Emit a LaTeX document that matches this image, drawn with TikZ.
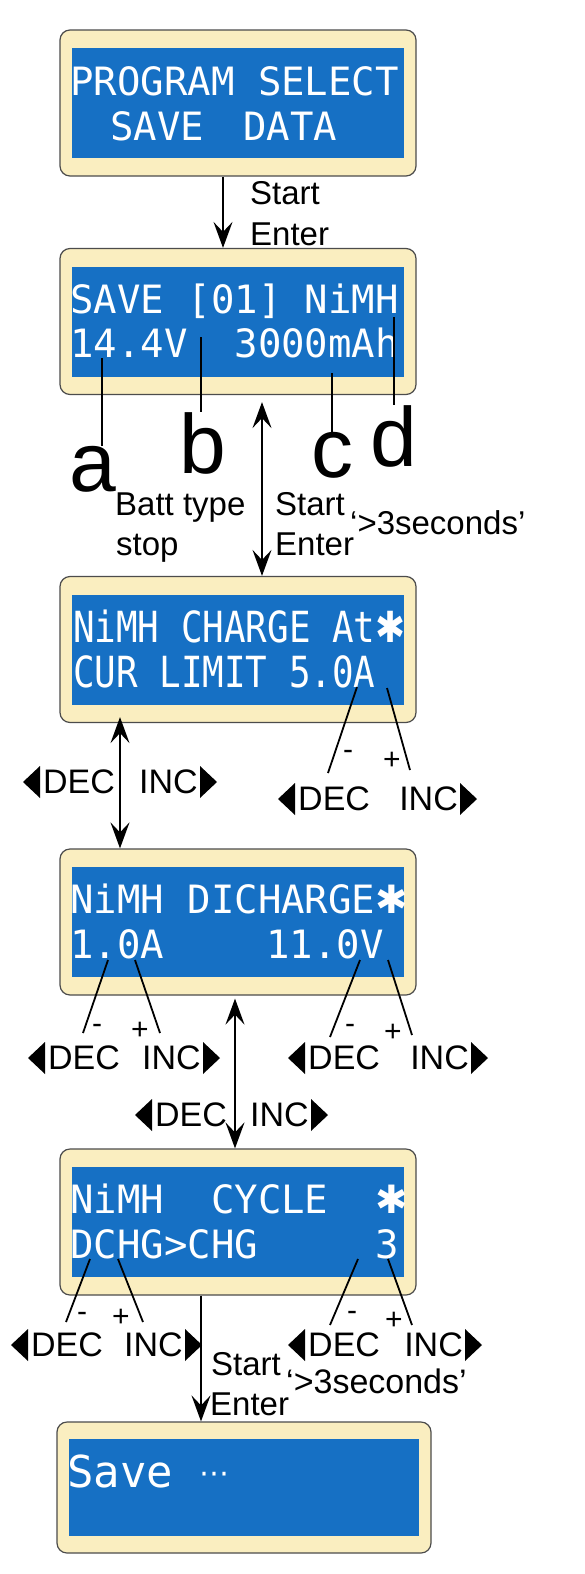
\documentclass[tikz,border=0pt]{standalone}
\usepackage{fontspec}
\setmainfont{Liberation Sans}
\newfontfamily\lcdfont{DejaVu Sans Mono}
\newfontfamily\symfont{DejaVu Sans}
\usepackage{tikz}
\usetikzlibrary{arrows.meta,positioning,calc}
\definecolor{lcdblue}{RGB}{22,112,196}
\definecolor{bezel}{RGB}{250,238,192}
\tikzset{bighead/.tip={Stealth[length=26pt,width=19pt,inset=10pt]}}
\tikzstyle{frame} = [draw=black!70, line width=1.2pt, fill=bezel, rounded corners=10pt, minimum width=356pt, minimum height=146pt, inner sep=0pt]
\tikzstyle{glass} = [fill=lcdblue, minimum width=332pt, minimum height=110pt, inner sep=0pt]
\tikzstyle{lcd} = [text=white, font=\lcdfont\fontsize{39}{39}\selectfont, inner sep=0pt, anchor=base west]
\tikzstyle{arrow} = [line width=1.5pt, -bighead]
\tikzstyle{darrow} = [line width=1.5pt, bighead-bighead]
\tikzstyle{lead} = [line width=1.8pt]
\tikzstyle{thinlead} = [line width=1.2pt]
\tikzstyle{lbl} = [font=\fontsize{33}{33}\selectfont, inner sep=0pt, anchor=base west]
\tikzstyle{key} = [font=\fontsize{34}{34}\selectfont, inner sep=0pt]
\tikzstyle{sign} = [font=\fontsize{30}{30}\selectfont, inner sep=0pt]
\tikzstyle{letter} = [font=\fontsize{84}{84}\selectfont, inner sep=0pt, anchor=base]
\tikzset{ltri/.pic={\fill (0,-16) -- (0,16) -- (-17,0) -- cycle;},
         rtri/.pic={\fill (0,-16) -- (0,16) -- (17,0) -- cycle;}}

\begin{document}
\begin{tikzpicture}[x=1pt, y=-1pt]
    \path[use as bounding box, fill=white] (0,0) rectangle (584,1574);

    % screens
    \foreach \i/\y in {1/103,2/321.5,3/649.5,4/922,5/1222}{
        \node[frame] (scr\i) at (238,\y) {};
        \node[glass] (lcd\i) at (238,\y) {};
    }
    \node[frame, minimum width=374pt, minimum height=131pt] (scr6) at (244,1487.5) {};
    \node[glass, minimum width=350pt, minimum height=97pt] (lcd6) at (244,1487) {};

    % screen texts
    \node[lcd] (t1a) at (70,95) {PROGRAM SELECT};
    \node[lcd] (t1b) at (110,140) {SAVE\hspace{39pt}DATA};
    \node[lcd] (t2a) at (70,313) {SAVE [01] NiMH};
    \node[lcd] (t2b) at (70,357) {14.4V\ \ 3000mAh};
    \node[lcd] (t3a) at (73,642) {\scalebox{0.92}[1.1]{NiMH CHARGE At{\symfont ✱}}};
    \node[lcd] (t3b) at (73,687) {\scalebox{0.92}[1.1]{CUR LIMIT 5.0A}};
    \node[lcd] (t4a) at (70,913) {NiMH DICHARGE{\symfont ✱}};
    \node[lcd] (t4b) at (70,958) {1.0A};
    \node[lcd] (t4c) at (266,958) {11.0V};
    \node[lcd] (t5a) at (70,1213) {NiMH\ \ CYCLE\ \ {\symfont ✱}};
    \node[lcd] (t5b) at (70,1258) {DCHG>CHG\ \ \ \ \ 3};
    \node[lcd, font=\lcdfont\fontsize{44}{44}\selectfont] (t6) at (67,1487) {Save {\symfont\fontsize{30}{30}\selectfont\raisebox{4pt}{⋯}}};

    % arrows between screens
    \draw[arrow] ([xshift=-15pt]scr1.south) -- ([xshift=-15pt]scr2.north);
    \draw[darrow] ([xshift=24pt,yshift=-7pt]scr2.south) -- ([xshift=24pt]scr3.north);
    \draw[darrow] ([xshift=-118pt,yshift=6pt]scr3.south) -- ([xshift=-118pt]scr4.north);
    \draw[darrow] ([xshift=-3pt,yshift=-3pt]scr4.south) -- ([xshift=-3pt]scr5.north);
    \draw[arrow] ([xshift=-37pt]scr5.south) -- ([xshift=-43pt]scr6.north);

    % arrow labels
    \node[lbl] (st1) at (250,204) {Start};
    \node[lbl] (en1) at (250,245) {Enter};
    \node[lbl] (bt2) at (115,515) {Batt type};
    \node[lbl] (sp2) at (116,555) {stop};
    \node[lbl] (st2) at (275,515) {Start};
    \node[lbl] (en2) at (275,555) {Enter};
    \node[lbl] (sec2) at (350,534) {‘>3seconds’};
    \node[lbl] (st5) at (211,1375) {Start};
    \node[lbl] (en5) at (210,1415) {Enter};
    \node[lbl, font=\fontsize{34}{34}\selectfont] (sec5) at (286,1393) {‘>3seconds’};

    % a b c d
    \node[letter] (la) at (93,491) {a};
    \node[letter] (lb) at (203,473) {b};
    \node[letter] (lc) at (332,477) {c};
    \node[letter] (ld) at (394,466) {d};
    \coordinate (pa) at (102,358);
    \coordinate (pb) at (201,337);
    \coordinate (pc) at (332,373);
    \coordinate (pd) at (394,317);
    \draw[thinlead] (pa) -- (pa |- la.north);
    \draw[thinlead] (pb) -- (pb |- lb.north);
    \draw[thinlead] (pc) -- (pc |- lc.north);
    \draw[thinlead] (pd) -- (pd |- ld.north);

    % DEC / INC keys
    \foreach \n/\dx/\ix/\y in {3/43/198/782, 3r/298/458/799, 4l/48/201/1058, 4r/308/469/1058,
                               45/155/309/1115, 5l/31/183/1345, 5r/308/463/1345}{
        \node[key, anchor=west] (dec\n) at (\dx,\y) {DEC};
        \node[key, anchor=east] (inc\n) at (\ix,\y) {INC};
        \pic at ([xshift=-3pt]dec\n.west) {ltri};
        \pic at ([xshift=2pt]inc\n.east) {rtri};
    }

    % - and + with their leaders
    \foreach \n/\mx/\my/\px/\py in {3r/348/755/392/761, 4l/97/1029/140/1031, 4r/350/1029/393/1033,
                                    5l/82/1317/121/1318, 5r/352/1316/394/1321}{
        \node[sign] (mi\n) at (\mx,\my) {-};
        \node[sign] (pl\n) at (\px,\py) {+};
    }
    \foreach \n/\a/\b/\c/\d in {3r/{357,687}/{328,773}/{387,688}/{410,770},
                                4l/{108,960}/{83,1033}/{135,960}/{160,1033},
                                4r/{360,960}/{330,1037}/{388,960}/{412,1035},
                                5l/{90,1259}/{66,1322}/{118,1259}/{143,1322},
                                5r/{358,1259}/{330,1325}/{388,1259}/{412,1325}}{
        \coordinate (mt\n) at (\a);
        \coordinate (mb\n) at (\b);
        \coordinate (pt\n) at (\c);
        \coordinate (pb\n) at (\d);
        \draw[lead] (mt\n) -- (mb\n);
        \draw[lead] (pt\n) -- (pb\n);
    }
\end{tikzpicture}
\end{document}
